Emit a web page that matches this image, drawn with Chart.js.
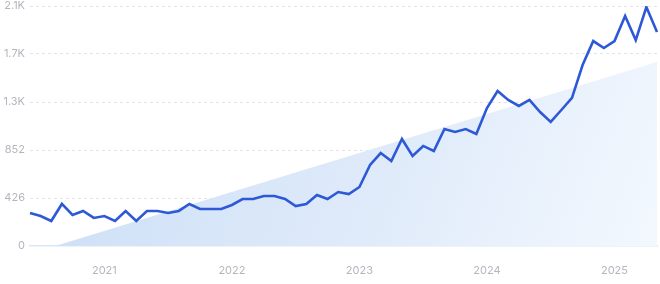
<!DOCTYPE html>
<html>
<head>
<meta charset="utf-8">
<script src="https://cdn.jsdelivr.net/npm/chart.js@4"></script>
<style>
  html, body { margin: 0; padding: 0; background: #fff; }
  #wrap { width: 660px; height: 284px; }
</style>
</head>
<body>
<div id="wrap"><canvas id="myChart" width="660" height="284"></canvas></div>
<script>
// months Jun 2020 .. May 2025
const months = [
  '2020-06','2020-07','2020-08','2020-09','2020-10','2020-11','2020-12',
  '2021-01','2021-02','2021-03','2021-04','2021-05','2021-06','2021-07','2021-08','2021-09','2021-10','2021-11','2021-12',
  '2022-01','2022-02','2022-03','2022-04','2022-05','2022-06','2022-07','2022-08','2022-09','2022-10','2022-11','2022-12',
  '2023-01','2023-02','2023-03','2023-04','2023-05','2023-06','2023-07','2023-08','2023-09','2023-10','2023-11','2023-12',
  '2024-01','2024-02','2024-03','2024-04','2024-05','2024-06','2024-07','2024-08','2024-09','2024-10','2024-11','2024-12',
  '2025-01','2025-02','2025-03','2025-04','2025-05'
];

const volume = [
  293, 266, 222, 373, 275, 311, 249,
  266, 222, 311, 222, 311, 311, 293, 311, 373, 328, 328, 328,
  364, 417, 417, 444, 444, 417, 355, 373, 453, 417, 479, 461,
  524, 719, 825, 754, 950, 799, 888, 843, 1038, 1012, 1038, 994,
  1225, 1376, 1296, 1243, 1296, 1189, 1101, 1207, 1314, 1606, 1819, 1757,
  1819, 2041, 1828, 2121, 1899
];

// trend line end values
const trendStart = -68;
const trendEnd = 1633;

const yTicks = [0, 426, 852, 1278, 1704, 2130];

const trend = months.map((m, i) => i == 0 ? trendStart : (i == months.length - 1 ? trendEnd : null));

const ctx = document.getElementById('myChart').getContext('2d');

const myChart = new Chart(ctx, {
  type: 'line',
  data: {
    labels: months,
    datasets: [{
      data: volume,
      borderColor: '#2d59d6',
      borderWidth: 2.6,
      pointRadius: 0,
      tension: 0,
      fill: false,
      order: 0
    }, {
      data: trend,
      spanGaps: true,
      borderWidth: 0,
      borderColor: 'rgba(0,0,0,0)',
      pointRadius: 0,
      tension: 0,
      fill: 'origin',
      backgroundColor: (c) => {
        const area = c.chart.chartArea;
        if (!area) return '#dbe8f9';
        const g = c.chart.ctx.createLinearGradient(area.left, area.top, area.right, area.bottom);
        g.addColorStop(0, '#c9ddf6');
        g.addColorStop(0.6, '#e0ebfa');
        g.addColorStop(1, '#f3f8fe');
        return g;
      },
      order: 1
    }]
  },
  options: {
    responsive: false,
    animation: false,
    layout: {
      padding: { top: 6, right: 3, left: 0, bottom: 0 }
    },
    plugins: {
      legend: { display: false },
      tooltip: { enabled: false }
    },
    scales: {
      x: {
        grid: { display: false, drawTicks: false },
        border: { display: true, color: '#dbe7f6', width: 1.5 },
        ticks: {
          autoSkip: false,
          maxRotation: 0,
          padding: 18,
          color: '#b3b6bd',
          font: { family: 'Inter', size: 11 },
          callback: function(value) {
            const l = months[value];
            return l.endsWith('-01') ? l.slice(0, 4) : '';
          }
        },
        afterFit: (scale) => {
          scale.height = 38;
          scale.paddingLeft = 0;
          scale.paddingRight = 0;
        }
      },
      y: {
        min: 0,
        max: 2130,
        afterBuildTicks: (scale) => { scale.ticks = yTicks.map(v => ({ value: v })); },
        grid: {
          color: (c) => c.tick && c.tick.value == 0 ? 'rgba(0,0,0,0)' : '#e1e4ea',
          drawTicks: false
        },
        border: { display: false, dash: [3, 3] },
        ticks: {
          padding: 5,
          color: '#b3b6bd',
          font: { family: 'Inter', size: 11 },
          callback: function(v) {
            return v >= 1000 ? (v / 1000).toFixed(1) + 'K' : String(v);
          }
        },
        afterFit: (scale) => {
          scale.width = 30;
          scale.paddingTop = 0;
          scale.paddingBottom = 0;
        }
      }
    }
  }
});
</script>
</body>
</html>
